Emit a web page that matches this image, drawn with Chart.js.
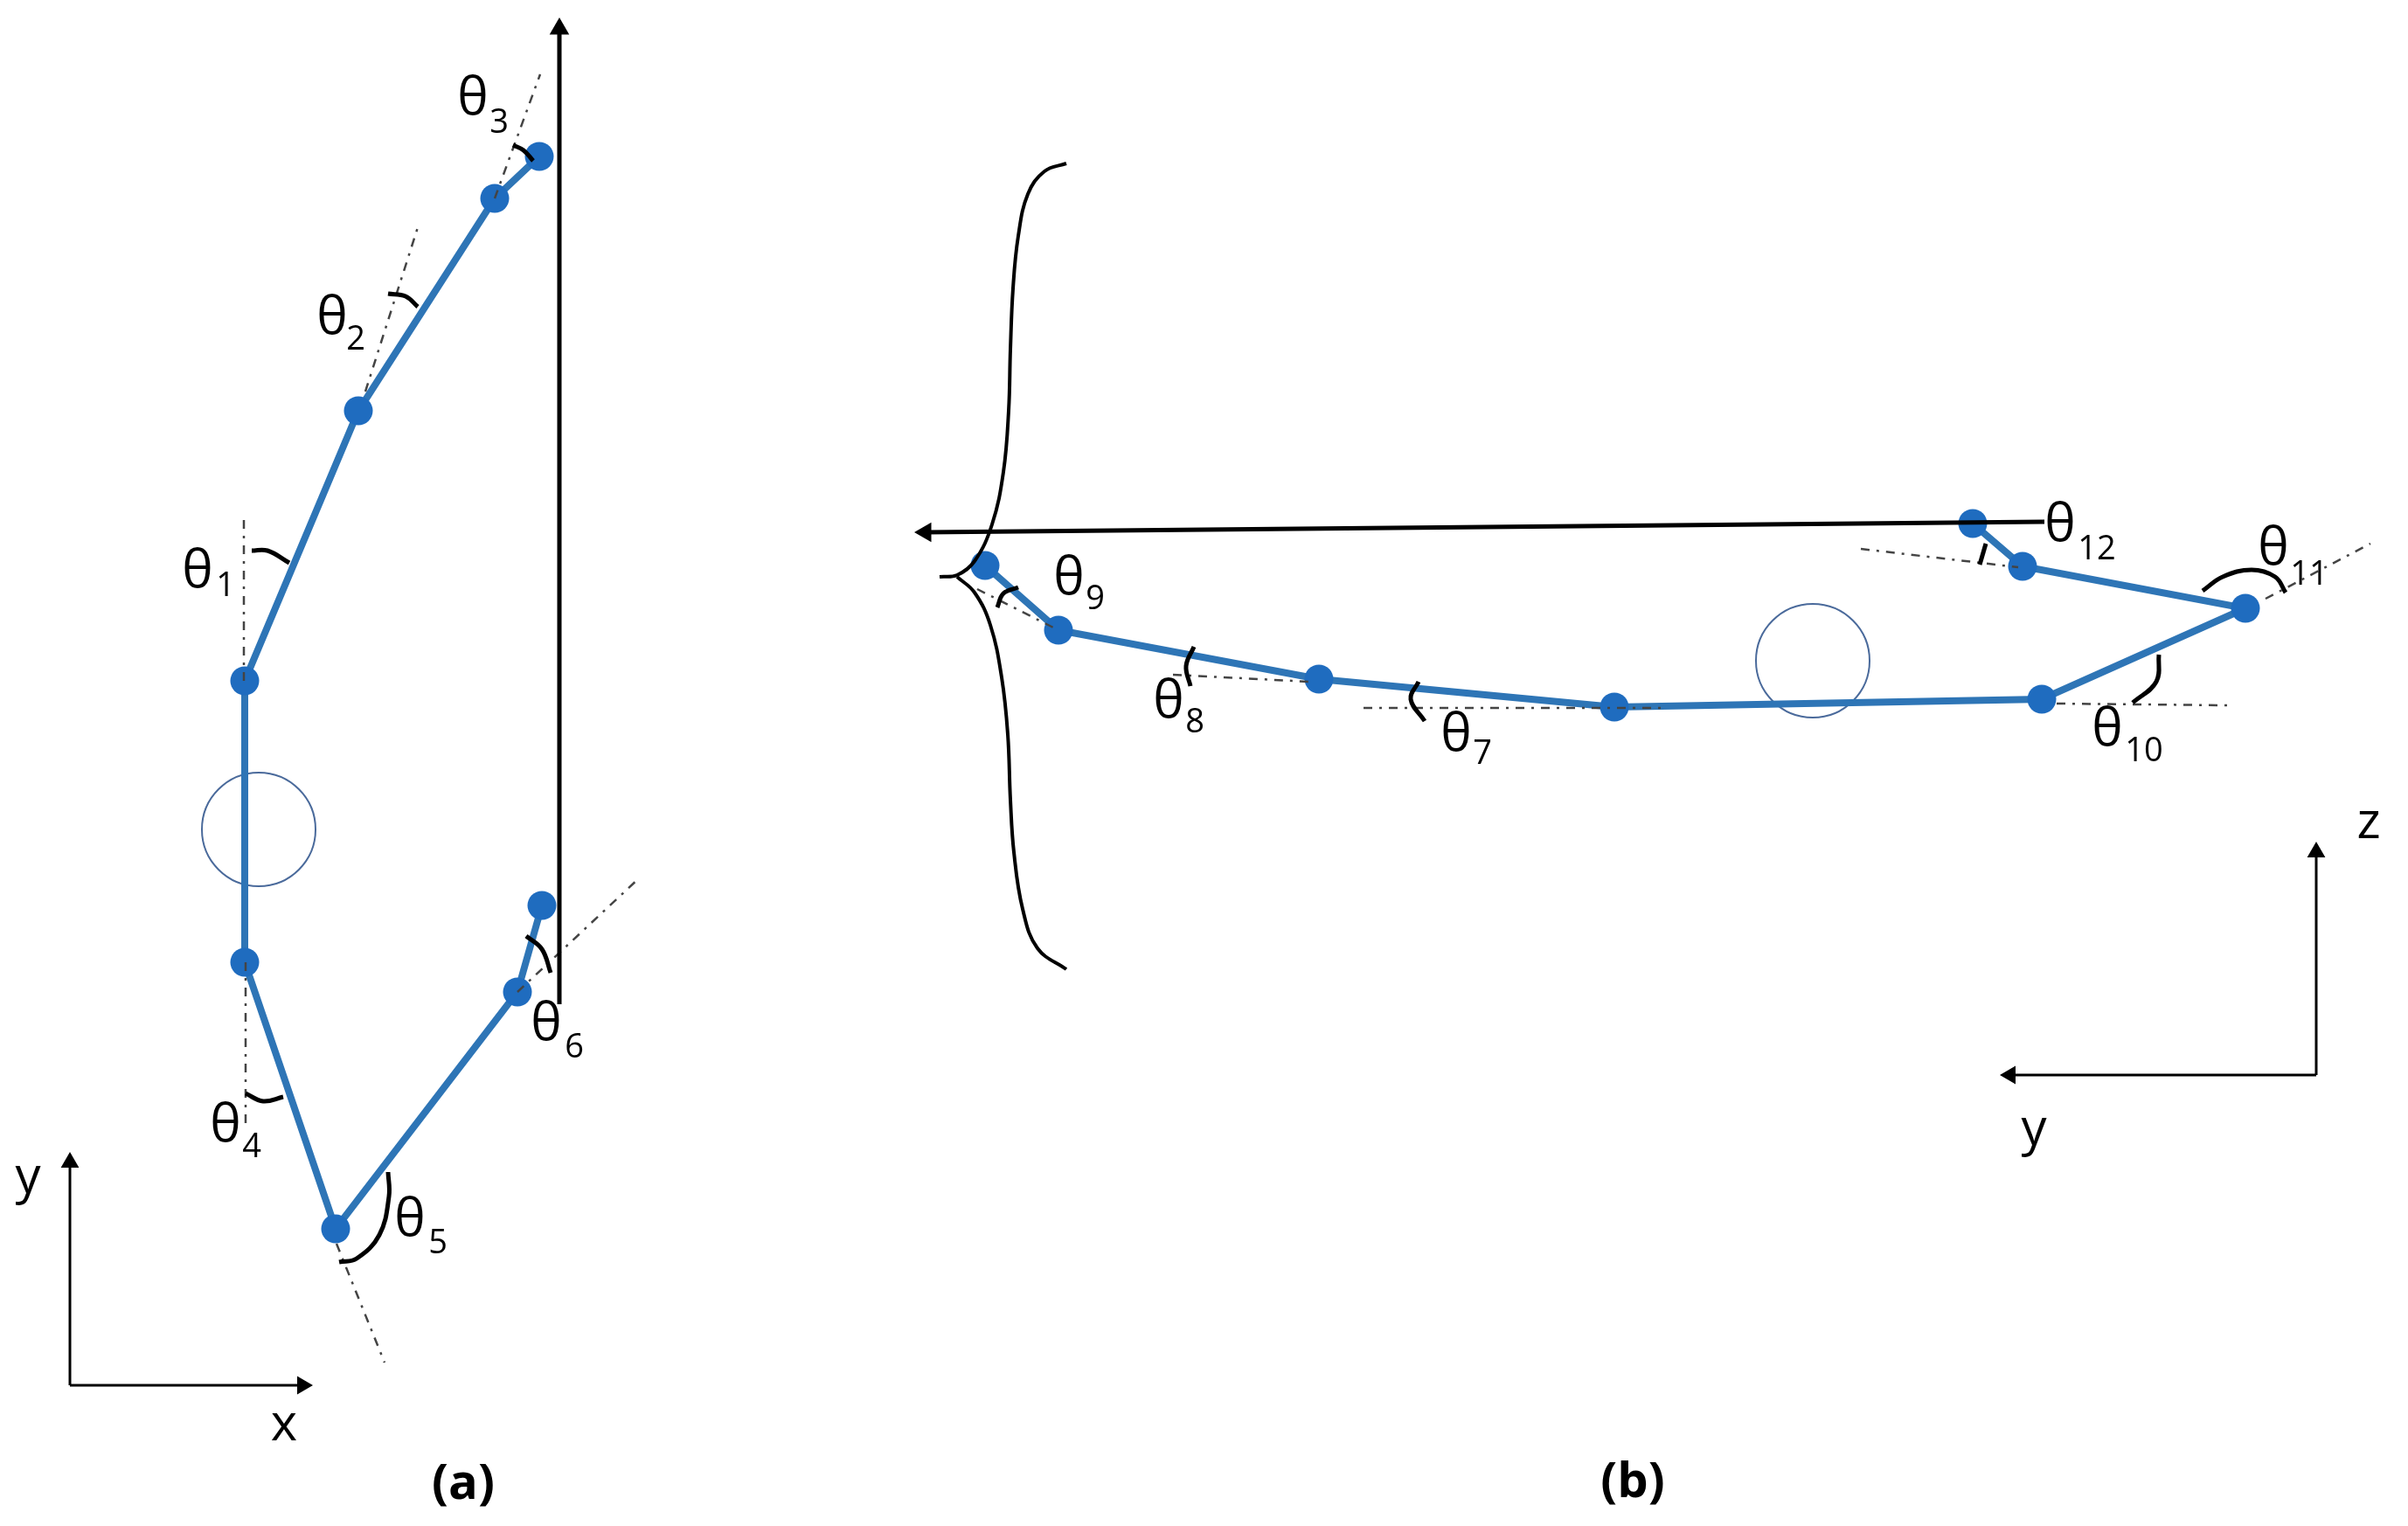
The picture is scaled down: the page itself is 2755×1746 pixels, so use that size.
<!DOCTYPE html>
<html>
<head>
<meta charset="utf-8">
<title>Joint angles</title>
<script src="https://cdn.jsdelivr.net/npm/chart.js@4"></script>
<style>
    html, body { margin: 0; padding: 0; background: #fff; }
    canvas { display: block; }
</style>
</head>
<body>
<canvas id="diagram" width="2755" height="1746"></canvas>
<script>
const armAX = [617, 566, 410, 280, 280, 384, 592, 620];
const armAY = [179, 227, 470, 779, 1101, 1406, 1135, 1036];
const armBX = [1127, 1211, 1509, 1847, 2336, 2569, 2314, 2257];
const armBY = [647, 721, 777, 809, 800, 696, 648, 599];

const circleX = [296, 2074];
const circleY = [949, 756];

// x1, y1, x2, y2
const guideLines = [
    [279, 779, 279, 590],
    [418, 448, 479, 257],
    [566, 227, 618, 85],
    [281, 1101, 281, 1286],
    [385, 1423, 440, 1559],
    [592, 1135, 732, 1004],
    [1118, 674, 1211, 721],
    [1342, 772, 1499, 780],
    [1560, 810, 1900, 810],
    [2353, 805, 2549, 807],
    [2592, 685, 2712, 622],
    [2129, 628, 2309, 649]
];

const angleArcs = [
    [[288, 630], [306, 630], [331, 644]],
    [[444, 336], [464, 339], [478, 351]],
    [[587, 166], [599, 172], [610, 184]],
    [[281, 1251], [301, 1260], [324, 1255]],
    [[444, 1341], [445, 1369], [434, 1413], [408, 1440], [388, 1444]],
    [[602, 1071], [620, 1086], [630, 1113]],
    [[1623, 780], [1614, 800], [1630, 825]],
    [[1366, 740], [1357, 762], [1362, 785]],
    [[1141, 695], [1148, 679], [1165, 672]],
    [[2470, 749], [2467, 780], [2440, 804]],
    [[2520, 676], [2543, 660], [2576, 652], [2603, 660], [2615, 678]],
    [[2272, 622], [2265, 646]]
];

const braceTop = [[1220, 187], [1195, 196], [1176, 222], [1165, 270], [1159, 330], [1156, 400], [1154, 470], [1148, 540], [1135, 600], [1115, 642], [1095, 658], [1075, 660]];
const braceBottom = [[1095, 660], [1115, 678], [1133, 715], [1146, 775], [1153, 840], [1156, 915], [1160, 975], [1170, 1040], [1187, 1085], [1220, 1109]];

// tail x, tail y, head x, head y, head rotation
const thickArrows = [
    [640, 1149, 640, 33, 0],
    [2339, 597, 1059, 609, -90]
];
const thinArrows = [
    [80, 1585, 80, 1330, 0],
    [80, 1585, 346, 1585, 90],
    [2650, 1230, 2650, 975, 0],
    [2650, 1230, 2300, 1230, -90]
];

const thetaNumbers = ['1', '2', '3', '4', '5', '6', '7', '8', '9', '10', '11', '12'];
const thetaX = [226, 380, 541, 258, 469, 625, 1666, 1337, 1223, 2411, 2601, 2357];
const thetaY = [657, 367, 116, 1291, 1399, 1175, 844, 806, 665, 838, 631, 604];
const subX = [258, 407, 571, 288, 501, 657, 1696, 1367, 1253, 2453, 2642, 2399];
const subY = [669, 387, 139, 1311, 1421, 1197, 861, 825, 684, 858, 656, 627];

const axisNames = ['y', 'x', 'z', 'y'];
const axisNameX = [32, 325, 2710, 2327];
const axisNameY = [1348, 1631, 942, 1293];

const panelNames = ['(a)', '(b)'];
const panelX = [530, 1868];
const panelY = [1699, 1697];

const FONT = '"Open Sans", "Noto Sans", sans-serif';

function toPoints(xs, ys) {
    return xs.map((x, i) => ({ x: x, y: ys[i] }));
}

function pairs(list) {
    return list.map(p => ({ x: p[0], y: p[1] }));
}

const datasets = [];

// black marks go on top of the blue arm
thickArrows.forEach(a => datasets.push(arrow(a, 5, 13)));
thinArrows.forEach(a => datasets.push(arrow(a, 3, 12)));

function arrow(a, width, head) {
    return {
        data: [{ x: a[0], y: a[1] }, { x: a[2], y: a[3] }],
        showLine: true,
        borderColor: '#000',
        backgroundColor: '#000',
        borderWidth: width,
        pointStyle: 'triangle',
        pointRadius: [0, head],
        pointBorderWidth: 0,
        pointBackgroundColor: '#000',
        pointRotation: [0, a[4]]
    };
}

[braceTop, braceBottom].forEach(b => datasets.push({
    data: pairs(b),
    showLine: true,
    tension: 0.4,
    borderColor: '#000',
    borderWidth: 4,
    pointRadius: 0
}));

angleArcs.forEach(a => datasets.push({
    data: pairs(a),
    showLine: true,
    tension: 0.4,
    borderColor: '#000',
    borderWidth: 5,
    pointRadius: 0
}));

guideLines.forEach(g => datasets.push({
    data: [{ x: g[0], y: g[1] }, { x: g[2], y: g[3] }],
    showLine: true,
    borderColor: '#444',
    borderWidth: 2.5,
    borderDash: [10, 8, 3, 8],
    pointRadius: 0
}));

[toPoints(armAX, armAY), toPoints(armBX, armBY)].forEach(arm => datasets.push({
    data: arm,
    showLine: true,
    borderColor: '#2E75B6',
    borderWidth: 8,
    pointRadius: 16.5,
    pointBackgroundColor: '#1F6CBF',
    pointBorderWidth: 0
}));

datasets.push({
    data: toPoints(circleX, circleY),
    showLine: false,
    pointRadius: 65,
    pointBackgroundColor: 'rgba(0,0,0,0)',
    pointBorderColor: '#4A6A9B',
    pointBorderWidth: 2
});

// Chart.js paints the first dataset last, so the order above is top to bottom
const textLabels = {
    id: 'textLabels',
    afterDatasetsDraw(chart) {
        const ctx = chart.ctx;
        const sx = chart.scales.x;
        const sy = chart.scales.y;
        function put(text, x, y, font) {
            ctx.font = font;
            ctx.fillText(text, sx.getPixelForValue(x), sy.getPixelForValue(y));
        }
        ctx.save();
        ctx.fillStyle = '#000';
        ctx.textAlign = 'center';
        ctx.textBaseline = 'middle';
        thetaNumbers.forEach((n, i) => {
            put('θ', thetaX[i], thetaY[i] - 2, `60px ${FONT}`);
            put(n, subX[i], subY[i] + 2, `38px ${FONT}`);
        });
        axisNames.forEach((n, i) => put(n, axisNameX[i], axisNameY[i], `58px ${FONT}`));
        panelNames.forEach((n, i) => put(n, panelX[i], panelY[i], `bold 56px ${FONT}`));
        ctx.restore();
    }
};

new Chart(document.getElementById('diagram').getContext('2d'), {
    type: 'scatter',
    data: { datasets: datasets },
    plugins: [textLabels],
    options: {
        responsive: false,
        devicePixelRatio: 1,
        animation: false,
        layout: { padding: 0, autoPadding: false },
        plugins: {
            legend: { display: false },
            tooltip: { enabled: false },
            title: { display: false }
        },
        scales: {
            x: { type: 'linear', min: 0, max: 2755, display: false },
            y: { type: 'linear', min: 0, max: 1746, reverse: true, display: false }
        }
    }
});
</script>
</body>
</html>
